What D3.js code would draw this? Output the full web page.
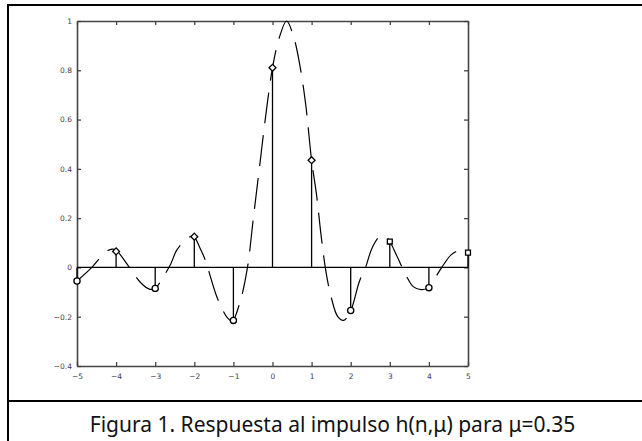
<!DOCTYPE html>
<html>
<head>
<meta charset="utf-8">
<script src="https://cdn.jsdelivr.net/npm/d3@7"></script>
<style>
  body { margin:0; background:white; }
  svg { display:block; }
</style>
</head>
<body>
<svg id="svg__container" width="642" height="441"></svg>
<script>
// muestras h(n)
const nValues=[-5,-4,-3,-2,-1,0,1,2,3,4,5];
const hValues=[-0.055,0.065,-0.085,0.125,-0.215,0.81,0.435,-0.175,0.105,-0.082,0.06];
const squareAt=[3,5];

// curva continua (punteada), puntos leídos a ojo
const curveX=[-5,-4.62,-4.26,-4.1,-4,-3.66,-3.37,-3.15,-3,-2.8,-2.6,-2.45,-2.2,-2.03,-1.85,-1.72,-1.45,-1.3,-1.15,-1.03,-0.83,-0.64,-0.49,-0.33,-0.17,0,0.17,0.36,0.55,0.7,0.85,1,1.13,1.25,1.37,1.5,1.67,1.82,2,2.22,2.38,2.55,2.75,2.9,3,3.2,3.41,3.6,3.8,4,4.15,4.33,4.56,4.75,4.9,5];
const curveY=[-0.055,0,0.064,0.074,0.07,0,-0.062,-0.088,-0.085,-0.04,0.015,0.07,0.115,0.127,0.077,0.03,-0.108,-0.165,-0.205,-0.218,-0.14,0,0.2,0.41,0.62,0.81,0.93,1,0.93,0.82,0.66,0.435,0.29,0.12,-0.02,-0.12,-0.2,-0.215,-0.175,-0.058,0,0.08,0.127,0.125,0.105,0.04,-0.03,-0.078,-0.09,-0.082,-0.045,0,0.05,0.068,0.068,0.06];

const xTicks=[-5,-4,-3,-2,-1,0,1,2,3,4,5];
const yTicks=[-0.4,-0.2,0,0.2,0.4,0.6,0.8,1];
const caption="Figura 1. Respuesta al impulso h(n,\u03bc) para \u03bc=0.35";

const svgTag=d3.select("#svg__container");

// marco tipo tabla
svgTag.append("line").attr("x1",8).attr("x2",642).attr("y1",5).attr("y2",5).attr("stroke","black").attr("stroke-width",2);
svgTag.append("line").attr("x1",8).attr("x2",8).attr("y1",4).attr("y2",441).attr("stroke","black").attr("stroke-width",2);
svgTag.append("line").attr("x1",8).attr("x2",642).attr("y1",401).attr("y2",401).attr("stroke","black").attr("stroke-width",2);

svgTag.append("text")
  .attr("x",332.5).attr("y",432)
  .attr("text-anchor","middle")
  .attr("font-family","'Noto Sans', 'Open Sans', sans-serif")
  .attr("font-size",21)
  .attr("fill","#111")
  .text(caption);

const plotLeft=77, plotRight=468, plotTop=21, plotBottom=366;
const x=d3.scaleLinear().domain([-5,5]).range([plotLeft,plotRight]);
const y=d3.scaleLinear().domain([-0.4,1]).range([plotBottom,plotTop]);

const axisColor="#444";
function styleAxis(g){
  g.select(".domain").attr("stroke",axisColor).attr("stroke-width",1.6);
  g.selectAll(".tick line").attr("stroke",axisColor).attr("stroke-width",1.3);
  g.selectAll(".tick text").attr("fill","#3b3b55").attr("font-size",7.5).attr("font-family","'DejaVu Sans', sans-serif");
}

svgTag.append("g").attr("transform",`translate(0,${plotBottom})`)
  .call(d3.axisBottom(x).tickValues(xTicks).tickSize(-4).tickSizeOuter(0).tickPadding(8).tickFormat(d3.format("d")))
  .call(styleAxis);
svgTag.append("g").attr("transform",`translate(0,${plotTop})`)
  .call(d3.axisTop(x).tickValues(xTicks).tickSize(-4).tickSizeOuter(0).tickFormat(""))
  .call(styleAxis);
svgTag.append("g").attr("transform",`translate(${plotLeft},0)`)
  .call(d3.axisLeft(y).tickValues(yTicks).tickSize(-4).tickSizeOuter(0).tickPadding(5).tickFormat(d=>d===0||d===1?d3.format("d")(d):d3.format(".1f")(d)))
  .call(styleAxis);
svgTag.append("g").attr("transform",`translate(${plotRight},0)`)
  .call(d3.axisRight(y).tickValues(yTicks).tickSize(-4).tickSizeOuter(0).tickFormat(""))
  .call(styleAxis);

// línea base
svgTag.append("line")
  .attr("x1",x(-5)).attr("x2",x(5)).attr("y1",y(0)).attr("y2",y(0))
  .attr("stroke","black").attr("stroke-width",1.3);

// curva punteada
const curvePoints=curveX.map((cx,i)=>[cx,curveY[i]]);
svgTag.append("path")
  .datum(curvePoints)
  .attr("d",d3.line().x(d=>x(d[0])).y(d=>y(d[1])).curve(d3.curveCatmullRom))
  .attr("fill","none").attr("stroke","black").attr("stroke-width",1.2)
  .attr("stroke-dasharray","31,12");

// tallos
const stems=nValues.map((n,i)=>({n, h:hValues[i]}));
svgTag.append("g").selectAll("line").data(stems).join("line")
  .attr("x1",d=>x(d.n)).attr("x2",d=>x(d.n))
  .attr("y1",y(0)).attr("y2",d=>y(d.h))
  .attr("stroke","black").attr("stroke-width",1.3);

// marcadores: círculo (negativo), rombo (positivo), cuadrado en 3 y 5
svgTag.append("g").selectAll("path").data(stems).join("path")
  .attr("transform",d=>{
    const rot=(d.h>=0 && !squareAt.includes(d.n))?45:0;
    return `translate(${x(d.n)},${y(d.h)}) rotate(${rot})`;
  })
  .attr("d",d=>{
    const type=d.h<0?d3.symbolCircle:d3.symbolSquare;
    return d3.symbol().type(type).size(d.h<0?30:24)();
  })
  .attr("fill","white").attr("stroke","black").attr("stroke-width",1.3);
</script>
</body>
</html>
